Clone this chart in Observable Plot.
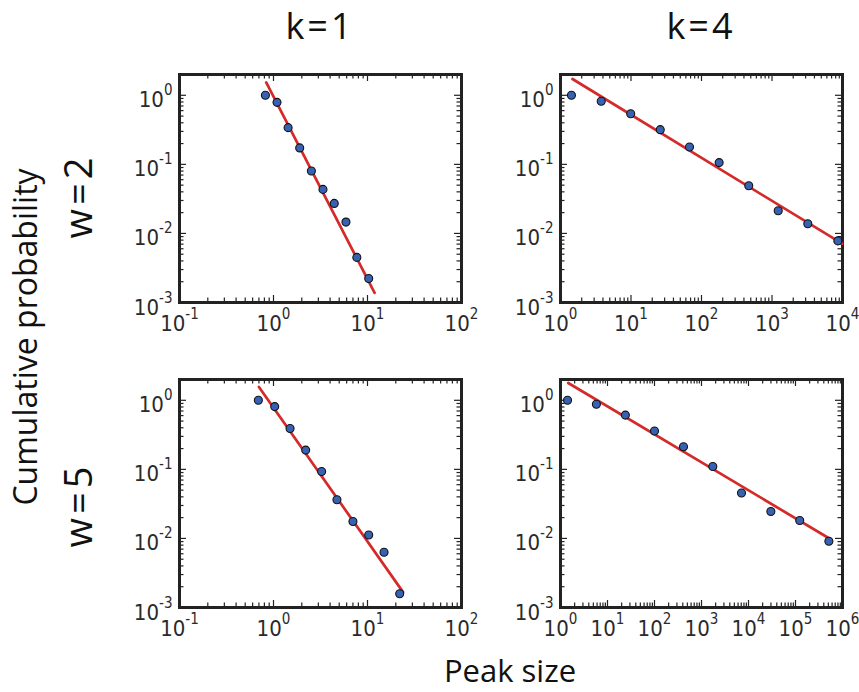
<!DOCTYPE html>
<html><head><meta charset="utf-8">
<script src="https://cdn.jsdelivr.net/npm/d3@7"></script>
<script src="https://cdn.jsdelivr.net/npm/@observablehq/plot@0.6"></script>
<style>
html,body{margin:0;padding:0;background:#fff;overflow:hidden}
#wrap{position:relative;width:859px;height:692px}
#wrap svg{overflow:visible}
</style></head><body><div id="wrap"></div>
<script>
// ---- labels ----
const colLabels = ["k=1", "k=4"];
const rowLabels = ["w=2", "w=5"];
const yTitle = "Cumulative probability";
const xTitle = "Peak size";

// ---- tick values and labels ----
const yTickValues = [0.001, 0.01, 0.1, 1];
const yTickExp = ["-3", "-2", "-1", "0"];
const xTickValuesK1 = [0.1, 1, 10, 100];
const xTickExpK1 = ["-1", "0", "1", "2"];
const xTickValuesK4w2 = [1, 10, 100, 1000, 10000];
const xTickExpK4w2 = ["0", "1", "2", "3", "4"];
const xTickValuesK4w5 = [1, 10, 100, 1000, 10000, 100000, 1000000];
const xTickExpK4w5 = ["0", "1", "2", "3", "4", "5", "6"];

// ---- data: k=1, w=2 ----
const k1w2Size = [0.82, 1.09, 1.43, 1.9, 2.53, 3.36, 4.43, 5.9, 7.7, 10.3];
const k1w2Prob = [1.0, 0.79, 0.34, 0.173, 0.08, 0.0434, 0.0272, 0.0146, 0.0045, 0.00223];
const k1w2FitSize = [0.836, 11.9];
const k1w2FitProb = [1.54, 0.00138];

// ---- data: k=4, w=2 ----
const k4w2Size = [1.43, 3.78, 9.9, 26, 67.6, 178, 468, 1225, 3220, 8590];
const k4w2Prob = [1.0, 0.82, 0.54, 0.318, 0.178, 0.106, 0.049, 0.0213, 0.0138, 0.0078];
const k4w2FitSize = [1.48, 9900];
const k4w2FitProb = [1.72, 0.0071];

// ---- data: k=1, w=5 ----
const k1w5Size = [0.69, 1.03, 1.5, 2.2, 3.25, 4.73, 7.0, 10.3, 15, 22];
const k1w5Prob = [1.0, 0.81, 0.39, 0.19, 0.093, 0.0364, 0.0176, 0.0112, 0.0063, 0.00158];
const k1w5FitSize = [0.7, 23.9];
const k1w5FitProb = [1.56, 0.00167];

// ---- data: k=4, w=5 ----
const k4w5Size = [1.41, 5.8, 24, 100, 414, 1740, 7100, 29900, 123000, 513000];
const k4w5Prob = [1.0, 0.875, 0.61, 0.36, 0.213, 0.11, 0.0454, 0.0246, 0.0182, 0.0091];
const k4w5FitSize = [1.46, 537000];
const k4w5FitProb = [1.78, 0.0099];

const wrap = document.getElementById("wrap");
const W = 282, H = 228, mL = 70, mR = 18, mT = 10, mB = 40;
const tickFont = "'DejaVu Sans Condensed', 'DejaVu Sans', Verdana, sans-serif";

function minorsOf(majors) {
  const out = [];
  for (let i = 0; i < majors.length - 1; i++) for (let m = 2; m <= 9; m++) out.push(majors[i] * m);
  return out;
}

function panel(sizes, probs, fitSizes, fitProbs, xTicks, xExp, frameLeft, frameTop) {
  const pts = sizes.map((s, i) => ({s, p: probs[i]}));
  const fit = fitSizes.map((s, i) => ({s, p: fitProbs[i]}));
  const xMinor = minorsOf(xTicks);
  const yMinor = minorsOf(yTickValues);
  const tc = {stroke: "#222", strokeWidth: 1.2};
  const plot = Plot.plot({
    width: W + mL + mR, height: H + mT + mB,
    marginLeft: mL, marginRight: mR, marginTop: mT, marginBottom: mB,
    x: {type: "log", domain: [xTicks[0], xTicks[xTicks.length - 1]]},
    y: {type: "log", domain: [1e-3, 2]},
    style: {fontFamily: tickFont, fontSize: "22px", color: "#2a2a2a", background: "transparent"},
    marks: [
      Plot.tickX(xTicks, {x: d => d, insetTop: H - 7, ...tc}),
      Plot.tickX(xTicks, {x: d => d, insetBottom: H - 7, ...tc}),
      Plot.tickX(xMinor, {x: d => d, insetTop: H - 4.5, ...tc}),
      Plot.tickX(xMinor, {x: d => d, insetBottom: H - 4.5, ...tc}),
      Plot.tickY(yTickValues, {y: d => d, insetRight: W - 7, ...tc}),
      Plot.tickY(yTickValues, {y: d => d, insetLeft: W - 7, ...tc}),
      Plot.tickY(yMinor, {y: d => d, insetRight: W - 4.5, ...tc}),
      Plot.tickY(yMinor, {y: d => d, insetLeft: W - 4.5, ...tc}),
      Plot.axisX({ticks: xTicks, tickSize: 0, tickPadding: 13, label: null, fontSize: 22,
        tickFormat: d => "10^" + xExp[xTicks.indexOf(d)]}),
      Plot.axisY({ticks: yTickValues, tickSize: 0, tickPadding: 7, label: null, fontSize: 22, dy: 5,
        tickFormat: d => "10^" + yTickExp[yTickValues.indexOf(d)]}),
      Plot.frame({stroke: "#222", strokeWidth: 3}),
      Plot.line(fit, {x: "s", y: "p", stroke: "#d42a2a", strokeWidth: 2.7}),
      Plot.dot(pts, {x: "s", y: "p", r: 4, fill: "#3762b3", stroke: "#111", strokeWidth: 1.1})
    ]
  });
  d3.select(plot).selectAll('g[aria-label="x-axis tick label"] text, g[aria-label="y-axis tick label"] text').each(function () {
    const parts = this.textContent.split("^");
    const t = d3.select(this);
    t.text(null);
    t.append("tspan").text(parts[0]);
    t.append("tspan").attr("dy", -12).attr("font-size", 15).text(parts[1]);
  });
  plot.style.position = "absolute";
  plot.style.left = (frameLeft - mL) + "px";
  plot.style.top = (frameTop - mT) + "px";
  wrap.appendChild(plot);
}

panel(k1w2Size, k1w2Prob, k1w2FitSize, k1w2FitProb, xTickValuesK1, xTickExpK1, 179, 74);
panel(k4w2Size, k4w2Prob, k4w2FitSize, k4w2FitProb, xTickValuesK4w2, xTickExpK4w2, 560, 74);
panel(k1w5Size, k1w5Prob, k1w5FitSize, k1w5FitProb, xTickValuesK1, xTickExpK1, 179, 379);
panel(k4w5Size, k4w5Prob, k4w5FitSize, k4w5FitProb, xTickValuesK4w5, xTickExpK4w5, 560, 379);

// ---- overlay titles ----
const ov = d3.select(wrap).append("svg")
  .attr("width", 859).attr("height", 692)
  .style("position", "absolute").style("left", 0).style("top", 0)
  .style("pointer-events", "none")
  .attr("font-family", "'Open Sans', 'Noto Sans', sans-serif").attr("fill", "#111");
[320, 701].forEach((x, i) => ov.append("text").attr("x", x).attr("y", 39)
  .attr("text-anchor", "middle").attr("font-size", 36).attr("letter-spacing", 3).text(colLabels[i]));
[196, 505].forEach((y, i) => ov.append("text").attr("transform", `translate(92,${y}) rotate(-90)`)
  .attr("text-anchor", "middle").attr("font-size", 38).attr("letter-spacing", 4).text(rowLabels[i]));
ov.append("text").attr("transform", "translate(37,337) rotate(-90)")
  .attr("text-anchor", "middle").attr("font-size", 32).text(yTitle);
ov.append("text").attr("x", 510).attr("y", 682)
  .attr("text-anchor", "middle").attr("font-size", 31).text(xTitle);
</script></body></html>
